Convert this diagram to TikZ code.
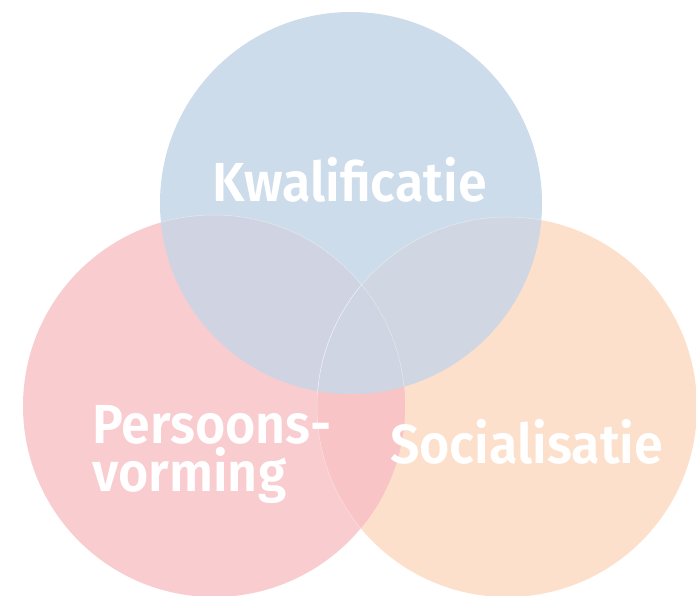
\documentclass[tikz,border=0pt]{standalone}
\usepackage{fontspec}
\setmainfont{Fira Sans}[BoldFont={Fira Sans SemiBold},BoldFeatures={FakeStretch=0.945}]
\usepackage{tikz}

\definecolor{kwalblue}{HTML}{CCDCEB}
\definecolor{perspink}{HTML}{F9CCCF}
\definecolor{sociorange}{HTML}{FCE0CB}
\definecolor{bluepink}{HTML}{D0D3E1}
\definecolor{blueorange}{HTML}{D0D7E3}
\definecolor{pinkorange}{HTML}{F8C4C6}
\definecolor{allthree}{HTML}{CFD5E2}

\begin{document}
\begin{tikzpicture}[x=1pt,y=-1pt,
    label text/.style={text=white,font=\fontsize{55}{47.5}\selectfont\bfseries,inner sep=0pt},
    edge line/.style={draw=white,draw opacity=0.45,line width=0.5pt}]
            \useasboundingbox (0,0) rectangle (696,596);
            \clip (0,0) rectangle (696,596);

            \coordinate (kwal) at (351,203);
            \coordinate (pers) at (214,406);
            \coordinate (soci) at (507,407);

            % plain circles
            \fill[sociorange] (soci) circle (190);
            \fill[perspink] (pers) circle (191);
            \fill[kwalblue] (kwal) circle (191);

            % overlaps
            \begin{scope}
                \clip (pers) circle (191);
                \fill[pinkorange] (soci) circle (190);
            \end{scope}
            \begin{scope}
                \clip (kwal) circle (191);
                \fill[bluepink] (pers) circle (191);
                \fill[blueorange] (soci) circle (190);
                \clip (pers) circle (191);
                \fill[allthree] (soci) circle (190);
            \end{scope}

            % faint edges showing through
            \begin{scope}
                \clip (kwal) circle (191);
                \draw[edge line] (pers) circle (191);
                \draw[edge line] (soci) circle (190);
            \end{scope}
            \begin{scope}
                \clip (pers) circle (191);
                \draw[edge line] (soci) circle (190);
            \end{scope}

            \node[label text,anchor=base] (kwaltext) at (349.5,201.5) {Kwalificatie};
            \node[label text,align=left,anchor=base west] (perstext) at (92,491) {Persoons-\\vorming};
            \node[label text,anchor=base west] (socitext) at (390,463.5) {Socialisatie};
        \end{tikzpicture}
\end{document}
